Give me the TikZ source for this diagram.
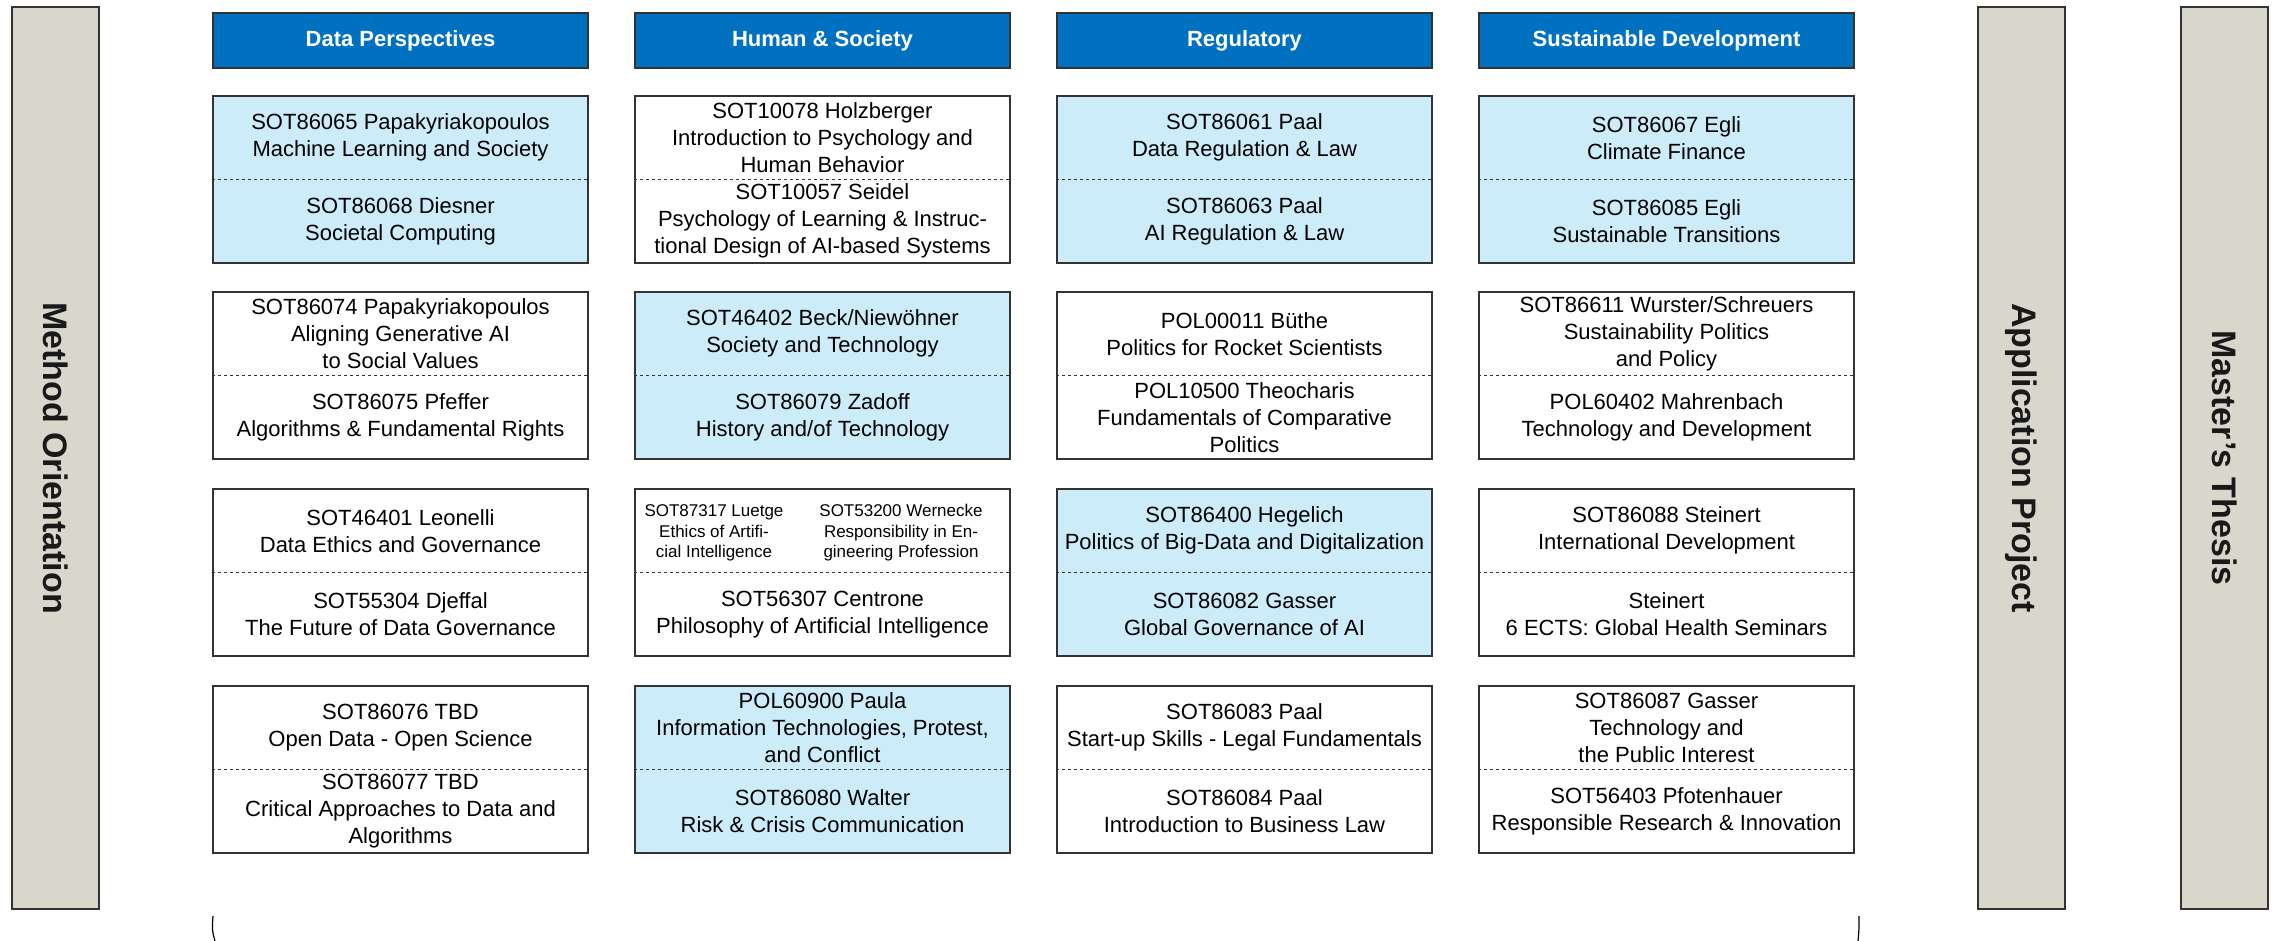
\documentclass[tikz,border=0pt]{standalone}
\usepackage{fontspec}
\setmainfont{Liberation Sans}
\usepackage{xcolor}
\usepackage{tikz}

\definecolor{hdrblue}{HTML}{0070C0}
\definecolor{cellblue}{HTML}{CCECFA}
\definecolor{bargray}{HTML}{D9D7CB}
\definecolor{edgegray}{HTML}{333333}

\tikzset{
	hdr/.style={draw=edgegray,fill=hdrblue,line width=1.5pt,minimum width=375pt,minimum height=55pt,inner sep=0pt,text=white,font=\fontsize{22}{27}\selectfont\bfseries},
	cellbox/.style={draw=edgegray,line width=1.5pt,minimum width=375pt,minimum height=167pt,inner sep=0pt},
	bluecell/.style={cellbox,fill=cellblue},
	halfline/.style={edgegray,line width=1.2pt,dash pattern=on 3pt off 3pt},
	celltext/.style={align=center,inner sep=0pt,font=\fontsize{22}{27}\selectfont},
	smalltext/.style={align=center,inner sep=0pt,font=\fontsize{17}{20.5}\selectfont},
	barbox/.style={draw=edgegray,fill=bargray,line width=1.5pt,rotate=-90,minimum width=902pt,minimum height=87pt,inner sep=0pt,text=black!90,font=\fontsize{34}{40}\selectfont\bfseries}
}

\begin{document}
\begin{tikzpicture}[x=1pt,y=-1pt]
				\useasboundingbox (0,0) rectangle (2272,941);
				
				% side bars
				\node[barbox] (mo) at (55.5,458) {Method Orientation};
				\node[barbox] (ap) at (2021.5,458) {Application Project};
				\node[barbox] (mt) at (2224.5,458) {Master's Thesis};
				
				% column heads
				\node[hdr] (dph) at (400.5,40.5) {Data Perspectives};
				\node[hdr] (hsh) at (822.5,40.5) {Human \& Society};
				\node[hdr] (rgh) at (1244.5,40.5) {Regulatory};
				\node[hdr] (sdh) at (1666.5,40.5) {Sustainable Development};
				
				% row 1
				\node[bluecell] (dp1) at (400.5,179.5) {};
				\node[cellbox] (hs1) at (822.5,179.5) {};
				\node[bluecell] (rg1) at (1244.5,179.5) {};
				\node[bluecell] (sd1) at (1666.5,179.5) {};
				% row 2
				\node[cellbox] (dp2) at (400.5,375.5) {};
				\node[bluecell] (hs2) at (822.5,375.5) {};
				\node[cellbox] (rg2) at (1244.5,375.5) {};
				\node[cellbox] (sd2) at (1666.5,375.5) {};
				% row 3
				\node[cellbox] (dp3) at (400.5,572.5) {};
				\node[cellbox] (hs3) at (822.5,572.5) {};
				\node[bluecell] (rg3) at (1244.5,572.5) {};
				\node[cellbox] (sd3) at (1666.5,572.5) {};
				% row 4
				\node[cellbox] (dp4) at (400.5,769.5) {};
				\node[bluecell] (hs4) at (822.5,769.5) {};
				\node[cellbox] (rg4) at (1244.5,769.5) {};
				\node[cellbox] (sd4) at (1666.5,769.5) {};
				
				\draw[halfline] (dp1.west) -- (dp1.east);
				\draw[halfline] (hs1.west) -- (hs1.east);
				\draw[halfline] (rg1.west) -- (rg1.east);
				\draw[halfline] (sd1.west) -- (sd1.east);
				\draw[halfline] (dp2.west) -- (dp2.east);
				\draw[halfline] (hs2.west) -- (hs2.east);
				\draw[halfline] (rg2.west) -- (rg2.east);
				\draw[halfline] (sd2.west) -- (sd2.east);
				\draw[halfline] (dp3.west) -- (dp3.east);
				\draw[halfline] (hs3.west) -- (hs3.east);
				\draw[halfline] (rg3.west) -- (rg3.east);
				\draw[halfline] (sd3.west) -- (sd3.east);
				\draw[halfline] (dp4.west) -- (dp4.east);
				\draw[halfline] (hs4.west) -- (hs4.east);
				\draw[halfline] (rg4.west) -- (rg4.east);
				\draw[halfline] (sd4.west) -- (sd4.east);
				
				% courses, row 1
				\node[celltext] (dp1a) at (400.5,137.75) {SOT86065 Papakyriakopoulos\\Machine Learning and Society};
				\node[celltext] (dp1b) at (400.5,221.25) {SOT86068 Diesner\\Societal Computing};
				\node[celltext] (hs1a) at (822.5,137.75) {SOT10078 Holzberger\\Introduction to Psychology and\\Human Behavior};
				\node[celltext] (hs1b) at (822.5,221.25) {SOT10057 Seidel\\Psychology of Learning \& Instruc-\\tional Design of AI-based Systems};
				\node[celltext] (rg1a) at (1244.5,137.75) {SOT86061 Paal\\Data Regulation \& Law};
				\node[celltext] (rg1b) at (1244.5,221.25) {SOT86063 Paal\\AI Regulation \& Law};
				\node[celltext] (sd1a) at (1666.5,137.75) {SOT86067 Egli\\Climate Finance};
				\node[celltext] (sd1b) at (1666.5,221.25) {SOT86085 Egli\\Sustainable Transitions};
				% courses, row 2
				\node[celltext] (dp2a) at (400.5,333.75) {SOT86074 Papakyriakopoulos\\Aligning Generative AI\\to Social Values};
				\node[celltext] (dp2b) at (400.5,417.25) {SOT86075 Pfeffer\\Algorithms \& Fundamental Rights};
				\node[celltext] (hs2a) at (822.5,333.75) {SOT46402 Beck/Niewöhner\\Society and Technology};
				\node[celltext] (hs2b) at (822.5,417.25) {SOT86079 Zadoff\\History and/of Technology};
				\node[celltext] (rg2a) at (1244.5,333.75) {POL00011 Büthe\\Politics for Rocket Scientists};
				\node[celltext] (rg2b) at (1244.5,417.25) {POL10500 Theocharis\\Fundamentals of Comparative\\Politics};
				\node[celltext] (sd2a) at (1666.5,333.75) {SOT86611 Wurster/Schreuers\\Sustainability Politics\\and Policy};
				\node[celltext] (sd2b) at (1666.5,417.25) {POL60402 Mahrenbach\\Technology and Development};
				% courses, row 3
				\node[celltext] (dp3a) at (400.5,530.75) {SOT46401 Leonelli\\Data Ethics and Governance};
				\node[celltext] (dp3b) at (400.5,614.25) {SOT55304 Djeffal\\The Future of Data Governance};
				\node[smalltext] (hs3a) at (714,533) {SOT87317 Luetge\\Ethics of Artifi-\\cial Intelligence};
				\node[smalltext] (hs3c) at (901,533) {SOT53200 Wernecke\\Responsibility in En-\\gineering Profession};
				\node[celltext] (hs3b) at (822.5,614.25) {SOT56307 Centrone\\Philosophy of Artificial Intelligence};
				\node[celltext] (rg3a) at (1244.5,530.75) {SOT86400 Hegelich\\Politics of Big-Data and Digitalization};
				\node[celltext] (rg3b) at (1244.5,614.25) {SOT86082 Gasser\\Global Governance of AI};
				\node[celltext] (sd3a) at (1666.5,530.75) {SOT86088 Steinert\\International Development};
				\node[celltext] (sd3b) at (1666.5,614.25) {Steinert\\6 ECTS: Global Health Seminars};
				% courses, row 4
				\node[celltext] (dp4a) at (400.5,727.75) {SOT86076 TBD\\Open Data - Open Science};
				\node[celltext] (dp4b) at (400.5,811.25) {SOT86077 TBD\\Critical Approaches to Data and\\Algorithms};
				\node[celltext] (hs4a) at (822.5,727.75) {POL60900 Paula\\Information Technologies, Protest,\\and Conflict};
				\node[celltext] (hs4b) at (822.5,811.25) {SOT86080 Walter\\Risk \& Crisis Communication};
				\node[celltext] (rg4a) at (1244.5,727.75) {SOT86083 Paal\\Start-up Skills - Legal Fundamentals};
				\node[celltext] (rg4b) at (1244.5,811.25) {SOT86084 Paal\\Introduction to Business Law};
				\node[celltext] (sd4a) at (1666.5,727.75) {SOT86087 Gasser\\Technology and\\the Public Interest};
				\node[celltext] (sd4b) at (1666.5,811.25) {SOT56403 Pfotenhauer\\Responsible Research \& Innovation};
				
				% brace ends at the bottom
				\coordinate (bl1) at (213,916);
				\coordinate (bl2) at (215,941);
				\coordinate (br1) at (1859,916);
				\coordinate (br2) at (1858,941);
				\draw[line width=1.2pt] (bl1) .. controls (212,930) .. (bl2);
				\draw[line width=1.2pt] (br1) .. controls (1859,930) .. (br2);
			\end{tikzpicture}
\end{document}
